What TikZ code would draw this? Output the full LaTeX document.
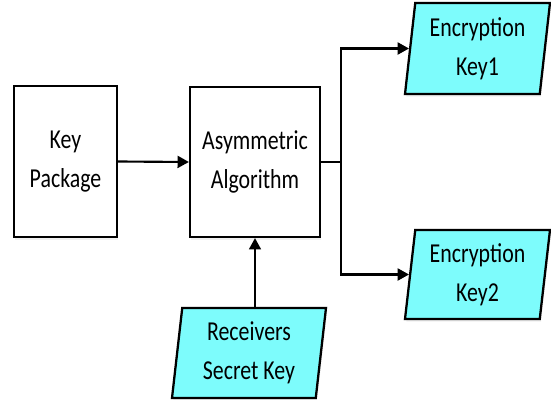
\documentclass[tikz,border=0pt]{standalone}
\usepackage{fontspec}
\setmainfont{Carlito}[FakeStretch=0.8]
\usetikzlibrary{arrows.meta,shapes.geometric,shadows}
\definecolor{keycyan}{RGB}{125,252,252}
\begin{document}
\begin{tikzpicture}[x=0.75pt,y=-0.75pt,
  every node/.style={font=\fontsize{20.5pt}{29pt}\selectfont, align=center, inner sep=0pt},
  procbox/.style={draw=black, line width=1.7pt, fill=white, rectangle,
    drop shadow={opacity=0.12, shadow xshift=1pt, shadow yshift=-2pt}},
  keybox/.style={draw=black, line width=1.7pt, fill=keycyan, trapezium,
    trapezium left angle=80.6, trapezium right angle=99.4, trapezium stretches body,
    drop shadow={opacity=0.12, shadow xshift=1pt, shadow yshift=-2pt}},
  arr/.style={line width=1.6pt, -{Triangle[length=8.5pt,width=9pt]}}]
\useasboundingbox (0,0) rectangle (551,400);
\node[procbox, minimum width=103*0.75pt, minimum height=151*0.75pt] (kp) at (65.5,161.5) {Key\\Package};
\node[procbox, minimum width=130*0.75pt, minimum height=150*0.75pt] (alg) at (255,162) {Asymmetric\\Algorithm};
\node[keybox, minimum width=145*0.75pt, minimum height=91*0.75pt] (k1) at (477.5,48.5) {Encryption\\Key1};
\node[keybox, minimum width=145*0.75pt, minimum height=89*0.75pt] (k2) at (477.5,274.5) {Encryption\\Key2};
\node[keybox, minimum width=154*0.75pt, minimum height=90*0.75pt] (rs) at (249,353) {Receivers\\Secret Key};
\coordinate (br) at (341,162);
\draw[arr] (kp.east) -- (alg.west);
\draw[line width=1.6pt] (alg.east) -- (br);
\draw[arr] (br) |- (k1.west);
\draw[arr] (br) |- (k2.west);
\draw[arr, line width=1.3pt] (alg.south |- rs.north) -- (alg.south);
\end{tikzpicture}
\end{document}
